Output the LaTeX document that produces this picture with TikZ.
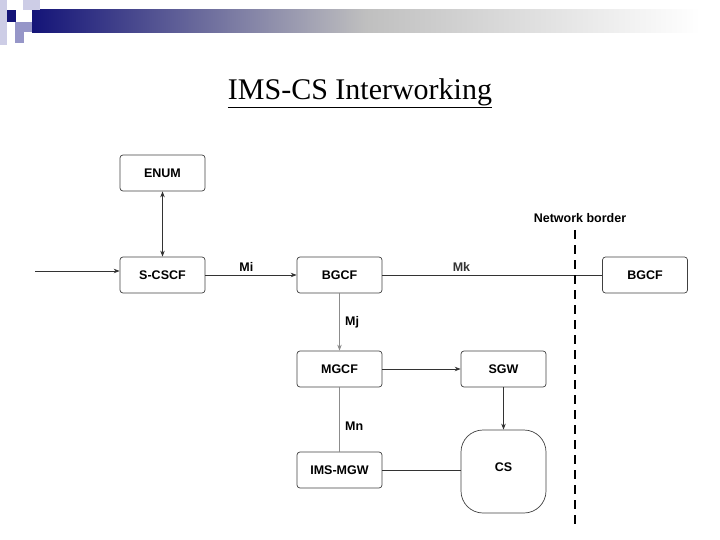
\documentclass[tikz,border=0pt]{standalone}
\usepackage{fontspec}
\setmainfont{Liberation Serif}
\newfontfamily\sff{Liberation Sans}
\usetikzlibrary{arrows.meta}
\definecolor{navy}{RGB}{20,20,120}
\definecolor{lnavy}{RGB}{150,150,200}
\definecolor{vlnavy}{RGB}{205,205,230}
\begin{document}
\begin{tikzpicture}[x=1pt,y=-1pt,
  box/.style={draw=black!75,rounded corners=3pt,minimum width=85pt,minimum height=36pt,font=\sff\bfseries\fontsize{12.5}{14}\selectfont,inner sep=0pt,line width=0.7pt},
  lbl/.style={font=\sff\bfseries\fontsize{12.5}{14}\selectfont},
  ar/.style={-{Stealth[length=6pt,width=4.5pt]},line width=0.8pt,draw=black!80}]
\useasboundingbox (0,0) rectangle (720,540);
% header decoration
\shade[left color=navy,right color=white,middle color=black!25!white,shading angle=90] (32,10) rectangle (700,33);
\fill[vlnavy] (23,0) rectangle (40,10);
\fill[vlnavy] (0,0) rectangle (7,45);
\fill[navy] (7,10) rectangle (16,22);
\fill[lnavy] (15,22) rectangle (32,32);
\fill[lnavy] (15,32) rectangle (24,43);
\node[font=\fontsize{30}{34}\selectfont] (title) at (360,93) {\underline{IMS-CS Interworking}};
% nodes
\node[box] (enum) at (162.5,173) {ENUM};
\node[box] (scscf) at (162.5,275) {S-CSCF};
\node[box] (bgcf) at (339.5,275) {BGCF};
\node[box] (bgcf2) at (645,275) {BGCF};
\node[box] (mgcf) at (339.5,369) {MGCF};
\node[box] (sgw) at (503.5,369) {SGW};
\node[box] (mgw) at (339.5,470) {IMS-MGW};
\node[draw=black!75,line width=0.7pt,rounded corners=22pt,minimum width=85pt,minimum height=83pt,font=\sff\bfseries\fontsize{12.5}{14}\selectfont,inner sep=0pt] (cs) at (503.5,471.5) {\raisebox{8pt}{CS}};
\coordinate (in) at (35,271);
\coordinate (nb1) at (575,230);
\coordinate (nb2) at (575,525);
% connectors
\draw[{Stealth[length=6pt,width=4.5pt]}-{Stealth[length=6pt,width=4.5pt]},line width=0.8pt,draw=black!80] (enum) -- (scscf);
\draw[ar] (in) -- (in -| scscf.west);
\draw[ar] (scscf) -- node[lbl,above,pos=0.45] {Mi} (bgcf);
\draw[line width=0.8pt,black!80] (bgcf) -- node[lbl,above,pos=0.36] {Mk} (bgcf2);
\draw[ar,draw=black!45] (bgcf) -- node[lbl,right,text=black,xshift=2pt] {Mj} (mgcf);
\draw[ar] (mgcf) -- (sgw);
\draw[ar] (sgw) -- (cs);
\draw[line width=0.8pt,black!45] (mgcf) -- node[lbl,right,text=black,xshift=2pt,pos=0.6] {Mn} (mgw);
\draw[line width=0.8pt,black!80] (mgw) -- (mgw -| cs.west);
\draw[line width=2.5pt,dash pattern=on 9pt off 6pt] (nb1) -- (nb2);
\node[lbl,anchor=south] (nb) at (580,226) {Network border};
\end{tikzpicture}
\end{document}
